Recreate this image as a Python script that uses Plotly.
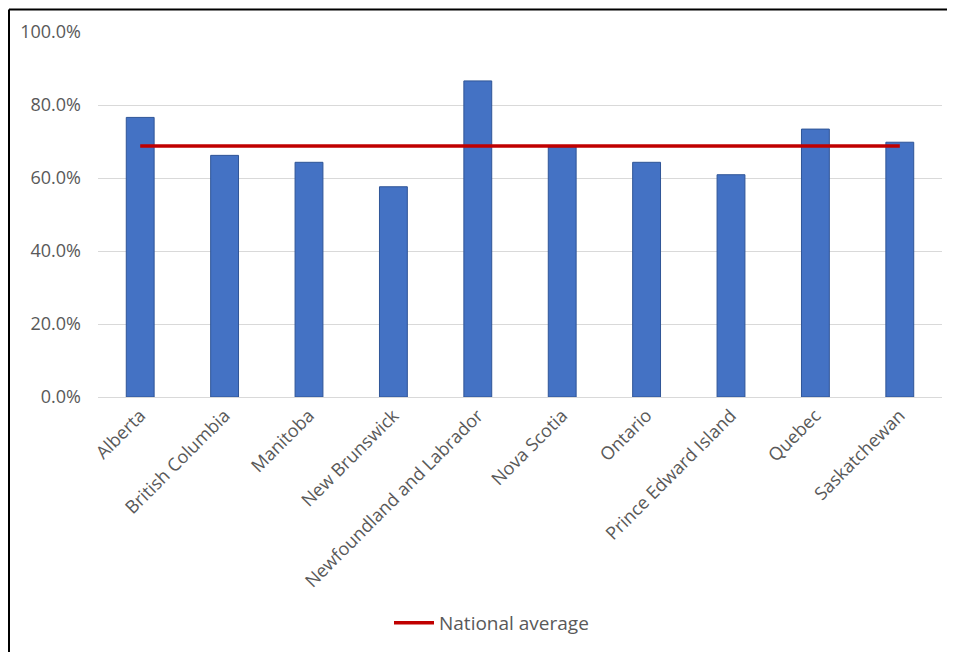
import plotly.graph_objects as go

provinces = ["Alberta", "British Columbia", "Manitoba", "New Brunswick",
             "Newfoundland and Labrador", "Nova Scotia", "Ontario",
             "Prince Edward Island", "Quebec", "Saskatchewan"]
rates = [0.766, 0.662, 0.643, 0.576, 0.866, 0.685, 0.643, 0.609, 0.734, 0.698]
national_average = [0.688] * len(provinces)
y_ticks = [0, 0.2, 0.4, 0.6, 0.8, 1.0]
y_tick_labels = ["0.0%", "20.0%", "40.0%", "60.0%", "80.0%", "100.0%"]

# the page body adds an 8px offset; figure coordinates = screen - 8
W, H = 947, 644
L, R, T, B = 90, 13, 24, 255
pw = W - L - R
ph = H - T - B

fig = go.Figure()
fig.add_trace(go.Bar(
    x=provinces, y=rates, name="Rate",
    marker=dict(color="#4472C4", line=dict(color="#2F5597", width=1)),
    showlegend=False,
))
fig.add_trace(go.Scatter(
    x=provinces, y=national_average, name="National average",
    mode="lines", line=dict(color="#C00000", width=3.5),
))

font_color = "#595959"
fig.update_layout(
    width=W, height=H,
    margin=dict(l=L, r=R, t=T, b=B, autoexpand=False),
    paper_bgcolor="white", plot_bgcolor="white",
    bargap=0.67,
    font=dict(family="Open Sans", size=18, color=font_color),
    showlegend=True,
    legend=dict(orientation="h", x=381 / W, xanchor="left",
                y=1 - 615 / H, yanchor="middle", yref="container",
                xref="container",
                font=dict(size=19, color=font_color),
                itemwidth=40, bgcolor="rgba(0,0,0,0)"),
    xaxis=dict(tickangle=-45, showgrid=False, showline=True,
               linecolor="#D9D9D9", linewidth=1, ticks="",
               automargin=False,
               tickfont=dict(size=18, color=font_color)),
    yaxis=dict(range=[0, 1.0], tickvals=y_ticks, ticktext=y_tick_labels,
               showgrid=True, gridcolor="#D9D9D9", gridwidth=1,
               zeroline=False, showline=False, ticks="",
               automargin=False, ticklabelstandoff=16,
               tickfont=dict(size=18, color=font_color)),
)

def px_x(x):
    return (x - L) / pw

def px_y(y):
    return (H - B - y) / ph

# outer frame (top and left edges)
fig.add_shape(type="line", xref="paper", yref="paper",
              x0=px_x(1), x1=px_x(W), y0=px_y(1.5), y1=px_y(1.5),
              line=dict(color="black", width=2))
fig.add_shape(type="line", xref="paper", yref="paper",
              x0=px_x(1), x1=px_x(1), y0=px_y(1.5), y1=px_y(H),
              line=dict(color="black", width=2))

fig.write_html("out.html")
